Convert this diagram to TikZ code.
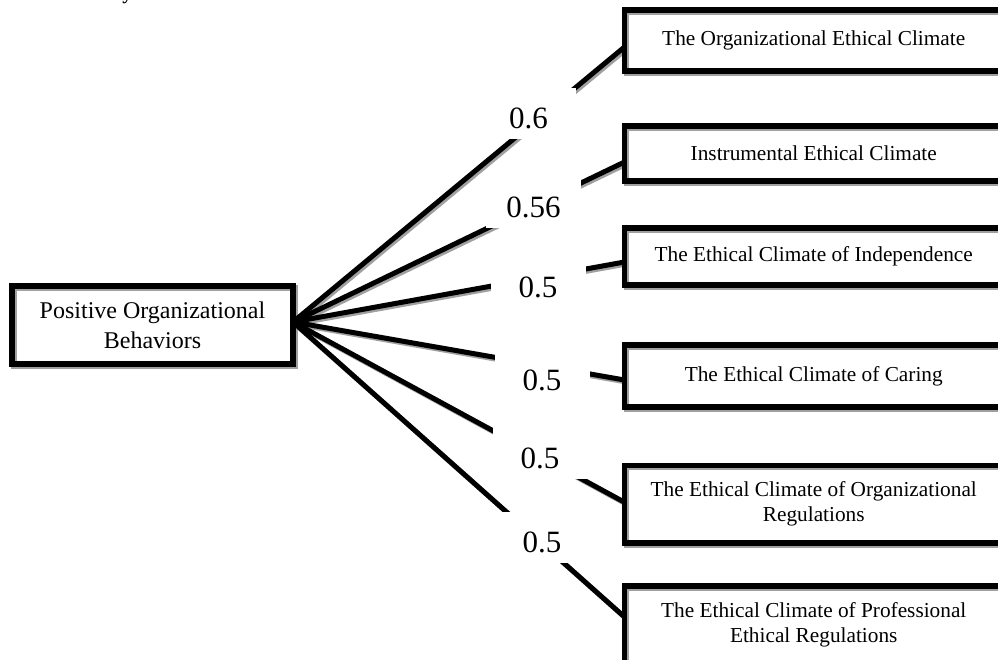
\documentclass[tikz,border=0pt]{standalone}
\usepackage{fontspec}
\setmainfont{Liberation Serif}
\definecolor{shadowgray}{HTML}{A0A0A0}
\pgfdeclarelayer{bg}
\pgfsetlayers{bg,main}
\tikzset{
  rbox/.style={draw, line width=5.5pt, minimum width=378.5pt, inner sep=0pt, outer sep=0pt,
    align=center, font=\fontsize{21.3}{25}\selectfont},
  lbox/.style={draw, line width=5.5pt, minimum width=281pt, minimum height=78pt,
    inner sep=0pt, outer sep=0pt, align=center, font=\fontsize{24}{30}\selectfont},
  boxshadow/.style={draw=shadowgray, line width=5.5pt},
  conn/.style={draw, line width=5pt},
  connshadow/.style={draw=shadowgray, line width=5pt},
  lbl/.style={fill=white, minimum width=95pt, minimum height=51pt, inner sep=0pt,
    text height=29pt, text depth=0pt, font=\fontsize{31}{31}\selectfont},
  captext/.style={anchor=base west, inner sep=0pt, font=\bfseries\fontsize{20}{20}\selectfont}
}
\begin{document}
\begin{tikzpicture}[x=1pt,y=-1pt]
\useasboundingbox (0,0) rectangle (998,660);
% partially visible caption at the top edge
\node[captext] (cap) at (36,-0.5) {Final analysis model};
% source box
\node[lbox] (L) at (152.5,325) {Positive Organizational\\Behaviors};
% target boxes
\node[rbox, minimum height=61pt] (b1) at (813.75,40.5) {The Organizational Ethical Climate};
\node[rbox, minimum height=55pt] (b2) at (813.75,153.5) {Instrumental Ethical Climate};
\node[rbox, minimum height=57pt] (b3) at (813.75,256.5) {The Ethical Climate of Independence};
\node[rbox, minimum height=62pt] (b4) at (813.75,376) {The Ethical Climate of Caring};
\node[rbox, minimum height=77.5pt] (b5) at (813.75,504.25) {The Ethical Climate of Organizational\\Regulations};
\node[rbox, minimum height=77.5pt] (b6) at (813.75,624.75) {The Ethical Climate of Professional\\Ethical Regulations};
% connector ends
\coordinate (hub) at ([yshift=3pt]L.east);
\coordinate (e1) at ([yshift=-6.5pt]b1.west);
\coordinate (e2) at ([yshift=-8.5pt]b2.west);
\coordinate (e3) at ([yshift=-5.5pt]b3.west);
\coordinate (e4) at ([yshift=-4pt]b4.west);
\coordinate (e5) at ([yshift=2pt]b5.west);
\coordinate (e6) at ([yshift=7.75pt]b6.west);
\begin{pgfonlayer}{bg}
% box shadows
\foreach \b in {L,b1,b2,b3,b4,b5,b6}{
  \path[boxshadow] ([shift={(2pt,-2pt)}]\b.south west) rectangle ([shift={(2pt,-2pt)}]\b.north east);
}
% connector shadows
\foreach \e in {e1,e2,e3,e4,e5,e6}{
  \path[connshadow] ([shift={(2pt,-2pt)}]hub) -- ([shift={(2pt,-2pt)}]\e);
}
% connectors
\path[conn] (hub) -- (e1);
\path[conn] (hub) -- (e2);
\path[conn] (hub) -- (e3);
\path[conn] (hub) -- (e4);
\path[conn] (hub) -- (e5);
\path[conn] (hub) -- (e6);
% weight labels
\node[lbl] (l1) at (528.5,114) {0.6};
\node[lbl] (l2) at (533.5,203) {0.56};
\node[lbl] (l3) at (538,283.5) {0.5};
\node[lbl] (l4) at (542,375.5) {0.5};
\node[lbl] (l5) at (540,453.5) {0.5};
\node[lbl] (l6) at (542,537.7) {0.5};
\end{pgfonlayer}
\end{tikzpicture}
\end{document}
